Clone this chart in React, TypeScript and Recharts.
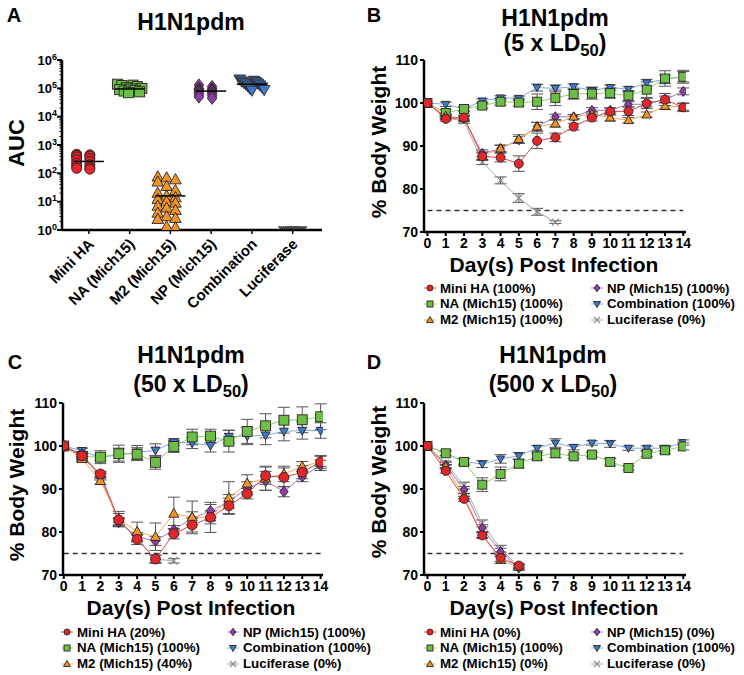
import React from 'react';
import { LineChart, Line, XAxis, YAxis, ErrorBar, ReferenceLine, ScatterChart, Scatter } from 'recharts';

const FONT = 'Arial, "Liberation Sans", Helvetica, sans-serif';

const DAYS = [0, 1, 2, 3, 4, 5, 6, 7, 8, 9, 10, 11, 12, 13, 14];
const WEIGHT_TICKS = [70, 80, 90, 100, 110];

// Panel A - AUC per group
const A_GROUPS = ['Mini HA', 'NA (Mich15)', 'M2 (Mich15)', 'NP (Mich15)', 'Combination', 'Luciferase'];
const A_MINI_HA = [470, 450, 430, 410, 380, 330, 300, 260, 230, 200, 180, 160, 150, 140];
const A_NA = [140000, 130000, 125000, 115000, 105000, 100000, 95000, 90000, 85000, 80000, 75000, 70000];
const A_M2 = [75, 70, 60, 50, 35, 25, 20, 16, 14, 12, 10, 9, 7, 6, 5, 4, 3, 2.6, 2.4, 1.3, 1.2];
const A_NP = [130000, 115000, 100000, 95000, 90000, 85000, 80000, 75000, 70000, 65000, 60000, 55000, 50000, 45000];
const A_COMBO = [210000, 190000, 180000, 170000, 160000, 150000, 140000, 130000, 120000, 110000, 100000, 90000, 85000];
const A_LUC = [1, 1, 1, 1, 1, 1, 1, 1, 1, 1];
const A_MEDIANS = [263, 95000, 16, 80000, 140000, 1];
const A_MAJOR_TICKS = [1, 10, 100, 1000, 10000, 100000, 1000000];

// Panel B - 5 x LD50
const B_MINI_HA = [100, 96.3, 96.6, 87.6, 87.3, 85.9, 91.2, 92.0, 94.5, 96.6, 98.0, 98.1, 99.9, 100.8, 99.0];
const B_MINI_HA_SEM = [0, 0.5, 0.6, 1.0, 1.0, 1.8, 1.8, 1.0, 0.8, 0.8, 0.8, 1.0, 1.2, 1.4, 1.0];
const B_NA = [100, 97.7, 98.6, 99.4, 100.3, 100.1, 100.3, 101.2, 102.1, 102.2, 102.3, 101.7, 103.1, 105.7, 106.1];
const B_NA_SEM = [0, 0.8, 0.5, 0.6, 0.8, 0.8, 1.8, 1.8, 1.2, 1.3, 1.2, 1.2, 1.8, 1.8, 1.5];
const B_M2 = [100, 97.0, 96.4, 87.6, 89.4, 91.6, 94.5, 95.2, 96.8, 97.4, 96.6, 96.0, 97.3, 99.3, 99.1];
const B_M2_SEM = [0, 0.5, 0.6, 0.8, 0.8, 1.0, 1.0, 0.8, 0.5, 0.6, 0.8, 0.6, 0.6, 0.8, 0.8];
const B_NP = [100, 96.8, 96.4, 88.3, 89.4, 91.4, 94.5, 96.8, 96.8, 98.3, 98.3, 99.7, 99.7, 100.8, 102.7];
const B_NP_SEM = [0, 0.5, 0.5, 0.8, 0.8, 0.8, 1.0, 0.6, 0.5, 0.6, 0.6, 0.6, 0.6, 0.8, 0.8];
const B_COMBO = [100, 99.7, 98.6, 100.5, 101.2, 101.1, 103.6, 103.4, 103.8, 102.9, 103.6, 103.2, 104.7, 105.5, 106.1];
const B_COMBO_SEM = [0, 0.5, 0.5, 0.5, 0.5, 0.5, 0.8, 0.8, 0.6, 0.8, 0.6, 0.6, 0.8, 1.0, 1.2];
const B_LUC = [100, 96.6, 95.8, 86.3, 82.0, 77.9, 74.7, 72.3];
const B_LUC_SEM = [0, 0.5, 0.5, 0.6, 0.8, 1.0, 0.8, 0.3];
const B_SURVIVAL = ['100%', '100%', '100%', '100%', '100%', '0%'];

// Panel C - 50 x LD50
const C_MINI_HA = [100, 97.7, 93.5, 82.8, 78.3, 73.7, 79.6, 81.6, 83.4, 86.1, 88.9, 93.1, 92.7, 93.9, 96.3];
const C_MINI_HA_SEM = [0, 0.8, 0.6, 1.5, 1.2, 1.0, 1.2, 1.6, 1.5, 1.8, 1.2, 2.0, 2.2, 1.5, 1.5];
const C_NA = [100, 97.6, 97.4, 98.2, 98.1, 96.2, 99.9, 102.1, 102.3, 101.1, 103.4, 104.7, 106.0, 106.1, 106.8];
const C_NA_SEM = [0, 0.6, 1.5, 2.0, 1.5, 1.6, 1.4, 1.8, 1.6, 2.5, 2.8, 2.8, 3.0, 3.0, 3.0];
const C_M2 = [100, 97.0, 91.9, 83.0, 80.1, 78.9, 84.3, 83.4, 83.4, 87.9, 91.3, 92.5, 93.5, 95.2, 96.4];
const C_M2_SEM = [0, 0.6, 0.8, 1.8, 2.2, 3.2, 3.8, 3.8, 3.5, 3.8, 2.0, 2.8, 1.8, 1.2, 1.2];
const C_NP = [100, 98.1, 92.9, 82.3, 78.9, 77.9, 80.5, 83.2, 84.9, 87.1, 90.2, 91.9, 89.4, 92.9, 95.5];
const C_NP_SEM = [0, 0.6, 0.8, 0.8, 1.0, 1.0, 1.0, 1.5, 1.5, 1.6, 1.5, 2.2, 1.2, 1.2, 1.2];
const C_COMBO = [100, 98.9, 97.3, 98.0, 98.5, 99.0, 100.9, 100.7, 100.1, 102.2, 102.3, 102.5, 103.4, 103.6, 103.6];
const C_COMBO_SEM = [0, 0.6, 0.6, 1.5, 1.6, 1.5, 0.8, 1.3, 1.5, 1.5, 2.0, 2.2, 2.2, 2.0, 1.8];
const C_LUC = [100, 97.5, 93.0, 82.5, 78.5, 73.7, 73.3];
const C_LUC_SEM = [0, 0.5, 0.6, 0.8, 0.8, 0.8, 0.5];
const C_SURVIVAL = ['20%', '100%', '40%', '100%', '100%', '0%'];

// Panel D - 500 x LD50
const D_MINI_HA = [100, 94.2, 87.7, 79.2, 74.0, 72.2];
const D_MINI_HA_SEM = [0, 0.5, 0.6, 0.6, 0.8, 0.5];
const D_NA = [100, 98.3, 96.3, 91.0, 93.5, 95.9, 97.6, 98.3, 97.6, 98.0, 96.3, 94.9, 98.2, 99.0, 99.9];
const D_NA_SEM = [0, 0.6, 0.8, 1.6, 1.6, 1.0, 0.8, 1.0, 0.5, 0.5, 0.8, 0.5, 0.6, 0.8, 0.8];
const D_M2 = [100, 95.2, 88.3, 79.3, 73.5, 71.9];
const D_M2_SEM = [0, 0.5, 0.6, 0.6, 0.8, 0.5];
const D_NP = [100, 95.6, 89.8, 80.9, 75.4, 71.6];
const D_NP_SEM = [0, 0.6, 0.8, 0.8, 0.8, 0.5];
const D_COMBO = [100, 98.3, 96.4, 95.8, 97.0, 97.7, 99.5, 100.7, 99.7, 100.7, 100.5, 99.5, 99.5, 99.5, 100.8];
const D_COMBO_SEM = [0, 0.5, 0.6, 0.8, 1.0, 0.8, 0.6, 1.0, 0.6, 0.5, 0.8, 0.5, 0.5, 0.6, 0.6];
const D_LUC = [100, 96.0, 90.8, 82.0, 76.1, 71.9];
const D_LUC_SEM = [0, 0.5, 0.8, 0.8, 0.8, 0.5];
const D_SURVIVAL = ['0%', '100%', '0%', '0%', '100%', '0%'];

const GROUPS = [
  { key: 'mini', label: 'Mini HA', kind: 'circle', fill: '#e2262a', line: '#e0484a' },
  { key: 'na', label: 'NA (Mich15)', kind: 'square', fill: '#6bbf45', line: '#8fd070' },
  { key: 'm2', label: 'M2 (Mich15)', kind: 'tri', fill: '#f09428', line: '#f3aa5a' },
  { key: 'np', label: 'NP (Mich15)', kind: 'diamond', fill: '#8b3ea8', line: '#a47cc2' },
  { key: 'combo', label: 'Combination', kind: 'down', fill: '#3c7ccf', line: '#80aae2' },
  { key: 'luc', label: 'Luciferase', kind: 'x', fill: '#8e8e8e', line: '#a8a8a8' },
];
// drawing order, back to front
const DRAW_ORDER = ['luc', 'combo', 'na', 'np', 'm2', 'mini'];
const SIZES = { circle: 9, square: 9, tri: 8, diamond: 8, down: 7, x: 7 };

function buildRows(vals, sems) {
  return DAYS.map((day, i) => {
    const row = { day };
    GROUPS.forEach((g, gi) => {
      const v = vals[gi][i];
      row[g.key] = v === undefined ? null : v;
      row[g.key + 'Err'] = v === undefined ? null : sems[gi][i];
    });
    return row;
  });
}

const B_ROWS = buildRows([B_MINI_HA, B_NA, B_M2, B_NP, B_COMBO, B_LUC], [B_MINI_HA_SEM, B_NA_SEM, B_M2_SEM, B_NP_SEM, B_COMBO_SEM, B_LUC_SEM]);
const C_ROWS = buildRows([C_MINI_HA, C_NA, C_M2, C_NP, C_COMBO, C_LUC], [C_MINI_HA_SEM, C_NA_SEM, C_M2_SEM, C_NP_SEM, C_COMBO_SEM, C_LUC_SEM]);
const D_ROWS = buildRows([D_MINI_HA, D_NA, D_M2, D_NP, D_COMBO, D_LUC], [D_MINI_HA_SEM, D_NA_SEM, D_M2_SEM, D_NP_SEM, D_COMBO_SEM, D_LUC_SEM]);

function Marker({ kind, cx, cy, s, fill, xStroke, xWidth }) {
  const stroke = '#2a2222';
  if (kind === 'circle') return <circle cx={cx} cy={cy} r={s / 2} fill={fill} stroke={stroke} strokeWidth={0.9} />;
  if (kind === 'square') return <rect x={cx - s / 2} y={cy - s / 2} width={s} height={s} fill={fill} stroke={stroke} strokeWidth={0.9} />;
  if (kind === 'tri') {
    return <polygon points={`${cx},${cy - s * 0.6} ${cx + s * 0.58},${cy + s * 0.42} ${cx - s * 0.58},${cy + s * 0.42}`} fill={fill} stroke={stroke} strokeWidth={0.9} />;
  }
  if (kind === 'down') {
    return <polygon points={`${cx},${cy + s * 0.6} ${cx + s * 0.58},${cy - s * 0.42} ${cx - s * 0.58},${cy - s * 0.42}`} fill={fill} stroke={stroke} strokeWidth={0.9} />;
  }
  if (kind === 'diamond') {
    return <polygon points={`${cx},${cy - s * 0.62} ${cx + s * 0.48},${cy} ${cx},${cy + s * 0.62} ${cx - s * 0.48},${cy}`} fill={fill} stroke={stroke} strokeWidth={0.9} />;
  }
  const w = s / 2;
  const h = xWidth ? s * 0.35 : s / 2;
  return (
    <g stroke={xStroke || fill} strokeWidth={xWidth || 1.2}>
      <line x1={cx - w} y1={cy - h} x2={cx + w} y2={cy + h} />
      <line x1={cx - w} y1={cy + h} x2={cx + w} y2={cy - h} />
    </g>
  );
}

function Label({ x, y, size, rotate, children }) {
  return (
    <div
      style={{
        position: 'absolute', left: x, top: y, fontSize: size, fontWeight: 700, fontFamily: FONT, lineHeight: 1,
        whiteSpace: 'nowrap', color: '#000',
        transform: `translate(-50%, -50%)${rotate ? ' rotate(-90deg)' : ''}`,
      }}
    >
      {children}
    </div>
  );
}

function Dose({ n }) {
  return (
    <span>
      ({n} x LD<span style={{ fontSize: '0.72em', position: 'relative', top: '0.3em' }}>50</span>)
    </span>
  );
}

function LegendBlock({ x1, x2, y, survival }) {
  const cols = [[0, 1, 2], [3, 4, 5]];
  return (
    <>
      {cols.map((col, ci) =>
        col.map((gi, ri) => {
          const g = GROUPS[gi];
          return (
            <div
              key={g.key}
              style={{
                position: 'absolute', left: (ci === 0 ? x1 : x2) - 8, top: y + ri * 15.8 - 8, height: 16,
                display: 'flex', alignItems: 'center', fontFamily: FONT, fontWeight: 700, fontSize: 13.3, whiteSpace: 'nowrap',
              }}
            >
              <svg width={16} height={12} style={{ marginRight: 2 }}>
                <line x1={2} y1={6} x2={14} y2={6} stroke={g.line} strokeWidth={1} />
                <Marker kind={g.kind} cx={8} cy={6} s={6} fill={g.fill} />
              </svg>
              {g.label} ({survival[gi]})
            </div>
          );
        })
      )}
    </>
  );
}

function WeightChart({ left, top, width, mLeft, mRight, domain, rows, markScale }) {
  return (
    <div style={{ position: 'absolute', left, top }}>
      <LineChart width={width} height={262} data={rows} margin={{ top: 60, right: mRight, left: mLeft, bottom: 0 }}>
        <XAxis
          dataKey="day" type="number" domain={domain} allowDataOverflow ticks={DAYS} interval={0}
          axisLine={{ stroke: '#000', strokeWidth: 2.5 }} tickLine={{ stroke: '#000', strokeWidth: 2 }}
          tickSize={4} tickMargin={2} height={30}
          tick={{ fill: '#000', fontSize: 14, fontWeight: 700, fontFamily: FONT }}
        />
        <YAxis
          type="number" domain={[70, 110]} ticks={WEIGHT_TICKS} allowDataOverflow width={40}
          axisLine={{ stroke: '#000', strokeWidth: 2.5 }} tickLine={{ stroke: '#000', strokeWidth: 2 }}
          tickSize={4} tickMargin={2}
          tick={{ fill: '#000', fontSize: 14, fontWeight: 700, fontFamily: FONT }}
        />
        <ReferenceLine segment={[{ x: 0, y: 75 }, { x: 14, y: 75 }]} stroke="#333" strokeWidth={1.5} strokeDasharray="5 4" />
        {DRAW_ORDER.map((k) => {
          const g = GROUPS.find((x) => x.key === k);
          const s = SIZES[g.kind] * markScale;
          return (
            <Line
              key={k} dataKey={k} type="linear" stroke={g.line} strokeWidth={1} isAnimationActive={false}
              connectNulls={false}
              dot={(p) =>
                p.cx == null || p.cy == null || p.value == null ? (
                  <g key={`${k}-${p.index}`} />
                ) : (
                  <Marker key={`${k}-${p.index}`} kind={g.kind} cx={p.cx} cy={p.cy} s={s} fill={g.fill} />
                )
              }
              activeDot={false}
            >
              <ErrorBar dataKey={k + 'Err'} width={6} stroke="#555" strokeWidth={1} direction="y" />
            </Line>
          );
        })}
      </LineChart>
    </div>
  );
}

function jitter(i, n, spread) {
  if (n < 2) return 0;
  return (((i * 7) % n) / (n - 1) - 0.5) * spread;
}

const A_SETS = [A_MINI_HA, A_NA, A_M2, A_NP, A_COMBO, A_LUC];
const A_SPREAD = [0.6, 0.6, 0.62, 0.6, 0.6, 0.45];
const MINOR_TICKS = [0, 1, 2, 3, 4, 5].flatMap((d) => [2, 3, 4, 5, 6, 7, 8, 9].map((m) => m * Math.pow(10, d)));

function LogTick(props) {
  const { x, y, payload } = props;
  const exp = Math.log10(payload.value);
  const major = Math.abs(exp - Math.round(exp)) < 1e-6;
  if (!major) return <line x1={x} y1={y} x2={x - 2.5} y2={y} stroke="#000" strokeWidth={1} />;
  return (
    <g>
      <line x1={x} y1={y} x2={x - 5} y2={y} stroke="#000" strokeWidth={2} />
      <text x={x - 5} y={y} dy="0.36em" textAnchor="end" fontFamily={FONT} fontWeight={700} fontSize={13} fill="#000">
        10<tspan dy="-0.55em" fontSize={9}>{Math.round(exp)}</tspan>
      </text>
    </g>
  );
}

function CatTick(props) {
  const { x, y, payload } = props;
  const ax = x + 6;
  const ay = y + 9;
  return (
    <text x={ax} y={ay} textAnchor="end" transform={`rotate(-45 ${ax} ${ay})`} fontFamily={FONT} fontWeight={700} fontSize={15} fill="#000">
      {A_GROUPS[payload.value]}
    </text>
  );
}

function AucChart() {
  return (
    <div style={{ position: 'absolute', left: 0, top: 0 }}>
      <ScatterChart width={370} height={320} margin={{ top: 60, right: 48, left: 12, bottom: 1 }}>
        <XAxis
          dataKey="x" type="number" domain={[-0.66, 5.72]} allowDataOverflow ticks={[0, 1, 2, 3, 4, 5]} interval={0}
          axisLine={{ stroke: '#000', strokeWidth: 2.5 }} tickLine={{ stroke: '#000', strokeWidth: 1.5 }}
          tickSize={4} tickMargin={2} height={89} tick={<CatTick />}
        />
        <YAxis
          dataKey="y" type="number" scale="log" domain={[1, 1000000]} allowDataOverflow width={50}
          ticks={[...A_MAJOR_TICKS, ...MINOR_TICKS]} interval={0}
          axisLine={{ stroke: '#000', strokeWidth: 2.5 }} tickLine={false} tickSize={0} tickMargin={0}
          tick={<LogTick />}
        />
        {A_SETS.map((vals, gi) => {
          const g = GROUPS[gi];
          const pts = vals.map((v, i) => ({ x: gi + jitter(i, vals.length, A_SPREAD[gi]), y: v }));
          return (
            <Scatter
              key={g.key} data={pts} isAnimationActive={false}
              shape={(p) => (
                <Marker
                  kind={g.kind} cx={p.cx} cy={p.cy} s={g.kind === 'x' ? 10 : 10} fill={g.fill}
                  xStroke="#444" xWidth={g.kind === 'x' ? 1.8 : undefined}
                />
              )}
            />
          );
        })}
        <Scatter
          data={A_MEDIANS.map((m, gi) => ({ x: gi, y: m }))} isAnimationActive={false}
          shape={(p) => <line x1={p.cx - 15} x2={p.cx + 15} y1={p.cy} y2={p.cy} stroke="#000" strokeWidth={1.5} />}
        />
      </ScatterChart>
    </div>
  );
}

export default function App() {
  return (
    <div style={{ position: 'absolute', left: 0, top: 0, width: 744, height: 675, background: '#fff', overflow: 'hidden' }}>
      {/* A */}
      <Label x={14} y={15} size={20}>A</Label>
      <Label x={191} y={22} size={23}>H1N1pdm</Label>
      <Label x={17} y={143} size={22} rotate>AUC</Label>
      <AucChart />

      {/* B */}
      <Label x={374} y={15} size={20}>B</Label>
      <Label x={555} y={18} size={23}>H1N1pdm</Label>
      <Label x={555} y={43} size={23}><Dose n={5} /></Label>
      <Label x={378} y={142} size={21} rotate>% Body Weight</Label>
      <WeightChart left={370} top={0} width={374} mLeft={14} mRight={58} domain={[-0.19, 14.15]} rows={B_ROWS} markScale={1} />
      <Label x={554} y={264} size={21}>Day(s) Post Infection</Label>
      <LegendBlock x1={430} x2={597} y={288} survival={B_SURVIVAL} />

      {/* C */}
      <Label x={15} y={362} size={20}>C</Label>
      <Label x={191} y={355} size={23}>H1N1pdm</Label>
      <Label x={191} y={384} size={23}><Dose n={50} /></Label>
      <Label x={16} y={485} size={21} rotate>% Body Weight</Label>
      <WeightChart left={0} top={343} width={370} mLeft={23} mRight={47} domain={[-0.04, 14.13]} rows={C_ROWS} markScale={1.1} />
      <Label x={191} y={607} size={21}>Day(s) Post Infection</Label>
      <LegendBlock x1={67} x2={233} y={632} survival={C_SURVIVAL} />

      {/* D */}
      <Label x={374} y={362} size={20}>D</Label>
      <Label x={553} y={355} size={23}>H1N1pdm</Label>
      <Label x={553} y={384} size={23}><Dose n={500} /></Label>
      <Label x={378} y={482} size={21} rotate>% Body Weight</Label>
      <WeightChart left={370} top={343} width={374} mLeft={14} mRight={58} domain={[-0.19, 14.15]} rows={D_ROWS} markScale={1} />
      <Label x={554} y={607} size={21}>Day(s) Post Infection</Label>
      <LegendBlock x1={430} x2={597} y={632} survival={D_SURVIVAL} />
    </div>
  );
}
